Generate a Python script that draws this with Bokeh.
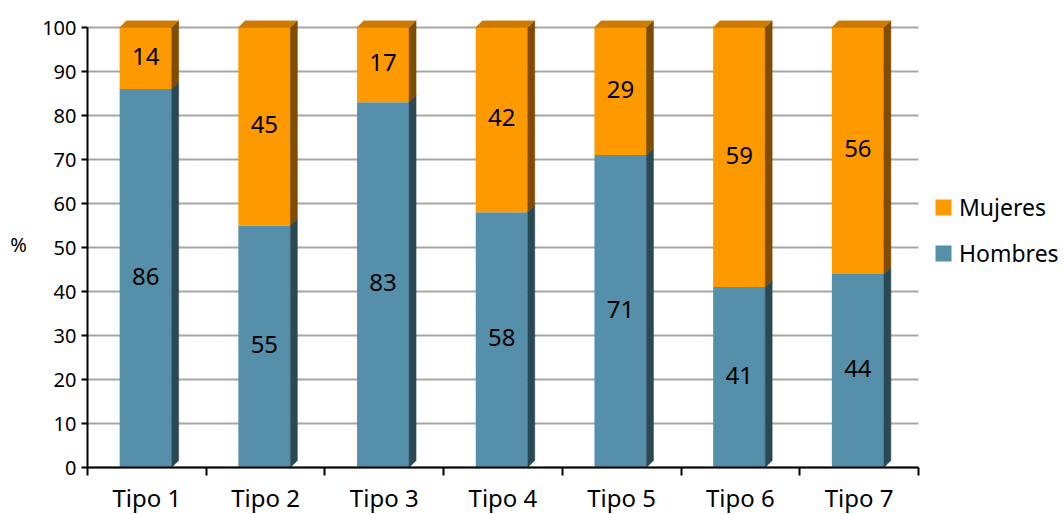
from bokeh.plotting import figure
from bokeh.models import (Range1d, FixedTicker, ColumnDataSource, Legend,
                          LegendItem)
from bokeh.core.properties import value
from bokeh.embed import file_html
from bokeh.resources import INLINE

# ---- data ----
categories = ["Tipo 1", "Tipo 2", "Tipo 3", "Tipo 4", "Tipo 5", "Tipo 6", "Tipo 7"]
hombres = [86, 55, 83, 58, 71, 41, 44]
mujeres = [14, 45, 17, 42, 29, 59, 56]
y_ticks = list(range(0, 101, 10))
y_max = 100
y_title = "%"

# ---- style ----
FONT = "Noto Sans"
PX_X = 118.7          # pixels per category
PX_Y = 4.4            # pixels per percent
DEPTH = 7             # 3D depth in pixels
dx = DEPTH / PX_X
dy = DEPTH / PX_Y
bar_w = 52 / PX_X

ORANGE = "#FF9900"
ORANGE_TOP = "#CC7A00"
ORANGE_SIDE = "#7F4C00"
BLUE = "#568FA9"
BLUE_SIDE = "#2B4955"

n = len(categories)
pos = [i + 1 for i in range(n)]
xs = [c - 0.01 for c in pos]

W, H = 1064, 514
axis_x_px = 87                      # pixel column of the value axis
axis_y_px = 467                     # pixel row of the category axis
top_border = 20
x0 = 0.5 - axis_x_px / PX_X
below = (H - axis_y_px) / PX_Y

p = figure(width=W, height=H,
           x_range=Range1d(x0, x0 + W / PX_X),
           y_range=Range1d(-below, y_max + dy),
           output_backend="svg", toolbar_location=None,
           min_border_left=0, min_border_right=0,
           min_border_top=top_border, min_border_bottom=0)
p.outline_line_color = None
p.background_fill_color = "white"
p.border_fill_color = "white"

# ---- fronts ----
src = ColumnDataSource(dict(
    x=xs, h=hombres, m_top=[h + m for h, m in zip(hombres, mujeres)],
    zero=[0] * n,
))
r_h = p.vbar(x="x", bottom="zero", top="h", width=bar_w, source=src,
             fill_color=BLUE, line_color=None)
r_m = p.vbar(x="x", bottom="h", top="m_top", width=bar_w, source=src,
             fill_color=ORANGE, line_color=None)

# ---- 3D sides / tops ----
bs_x, bs_y, os_x, os_y, t_x, t_y = [], [], [], [], [], []
for x, h, m in zip(xs, hombres, mujeres):
    xr = x + bar_w / 2
    xl = x - bar_w / 2
    tot = h + m
    bs_x.append([xr, xr + dx, xr + dx, xr])
    bs_y.append([0, dy, h + dy, h])
    os_x.append([xr, xr + dx, xr + dx, xr])
    os_y.append([h, h + dy, tot + dy, tot])
    t_x.append([xl, xl + dx, xr + dx, xr])
    t_y.append([tot, tot + dy, tot + dy, tot])
p.patches(bs_x, bs_y, fill_color=BLUE_SIDE, line_color=BLUE_SIDE, line_width=0.5)
p.patches(os_x, os_y, fill_color=ORANGE_SIDE, line_color=ORANGE_SIDE, line_width=0.5)
p.patches(t_x, t_y, fill_color=ORANGE_TOP, line_color=ORANGE_TOP, line_width=0.5)

# ---- value labels ----
p.text(x=xs, y=[h / 2 for h in hombres], text=[str(v) for v in hombres],
       text_align="center", text_baseline="middle", y_offset=-2,
       text_font=value(FONT), text_font_size="24px", text_color="#000000")
p.text(x=xs, y=[h + m / 2 for h, m in zip(hombres, mujeres)],
       text=[str(v) for v in mujeres],
       text_align="center", text_baseline="middle", y_offset=-2,
       text_font=value(FONT), text_font_size="24px", text_color="#000000")

# ---- axes ----
ya = p.yaxis[0]
ya.fixed_location = 0.5
ya.ticker = FixedTicker(ticks=y_ticks)
ya.bounds = (0, y_max)
ya.axis_line_width = 2
ya.axis_line_color = "black"
ya.major_tick_out = 6
ya.major_tick_in = 0
ya.major_tick_line_width = 2
ya.minor_tick_out = 0
ya.minor_tick_in = 0
ya.major_label_text_font = FONT
ya.major_label_text_font_size = "20px"
ya.major_label_text_color = "black"
ya.major_label_standoff = 5

# value-axis title "%"
p.text(x=[0.5 - 69 / PX_X], y=[y_max / 2], text=[y_title],
       text_align="center", text_baseline="middle", y_offset=-3,
       text_font=value(FONT), text_font_size="20px", text_color="black")

xa = p.xaxis[0]
xa.fixed_location = 0
xa.ticker = FixedTicker(ticks=pos, minor_ticks=[c - 0.5 for c in pos] + [pos[-1] + 0.5])
xa.bounds = (0.5, n + 0.5)
xa.axis_line_width = 2
xa.axis_line_color = "black"
xa.major_tick_out = 0
xa.major_tick_in = 0
xa.minor_tick_out = 8
xa.minor_tick_in = 0
xa.minor_tick_line_width = 2
xa.minor_tick_line_color = "black"
xa.major_label_overrides = {c: lab for c, lab in zip(pos, categories)}
xa.major_label_text_font = FONT
xa.major_label_text_font_size = "24px"
xa.major_label_text_color = "black"
xa.major_label_standoff = 5

# ---- grid ----
p.xgrid.visible = False
g = p.ygrid[0]
g.ticker = FixedTicker(ticks=y_ticks)
g.grid_line_color = "#A6A6A6"
g.grid_line_width = 2
try:
    g.cross_bounds = (0.5, n + 0.5)
except Exception:
    pass

# ---- legend ----
legend = Legend(items=[LegendItem(label="Mujeres", renderers=[r_m]),
                       LegendItem(label="Hombres", renderers=[r_h])],
                location=(933, 245), glyph_width=20, glyph_height=20,
                label_text_font=FONT, label_text_font_size="23px",
                label_text_color="black", label_standoff=6, label_height=20,
                spacing=14, padding=0, margin=0, border_line_color=None,
                background_fill_alpha=0)
p.add_layout(legend, "center")

open("out.html", "w").write(file_html(p, INLINE))
